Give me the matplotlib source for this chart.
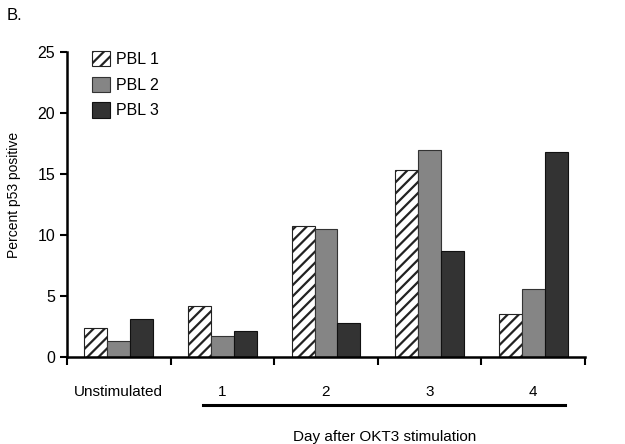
import matplotlib
matplotlib.use('Agg')
import matplotlib.pyplot as plt
import numpy as np

# Datos
categorias = ['Unstimulated', '1', '2', '3', '4']
pbl1 = [2.4, 4.2, 10.7, 15.3, 3.5]
pbl2 = [1.3, 1.7, 10.5, 17.0, 5.6]
pbl3 = [3.1, 2.1, 2.8, 8.7, 16.8]
series = ['PBL 1', 'PBL 2', 'PBL 3']

plt.rcParams['font.family'] = ['Liberation Sans', 'DejaVu Sans']
plt.rcParams['hatch.linewidth'] = 1.6

W, H = 625, 444
fig = plt.figure(figsize=(W / 100, H / 100), dpi=100)
ax = fig.add_axes([67 / W, 1 - 357 / H, 518 / W, 305 / H])

x = np.arange(len(categorias))
w = 0.222
ax.bar(x - w, pbl1, w, facecolor='white', edgecolor='#222222', hatch='///',
       linewidth=0.8, label=series[0])
ax.bar(x, pbl2, w, facecolor='#858585', edgecolor='#333333',
       linewidth=0.8, label=series[1])
ax.bar(x + w, pbl3, w, facecolor='#333333', edgecolor='#111111',
       linewidth=0.8, label=series[2])

ax.set_xlim(-0.5, len(categorias) - 0.5)
ax.set_ylim(0, 25)
ax.set_yticks([0, 5, 10, 15, 20, 25])
ax.set_ylabel('Percent p53 positive', fontsize=10)
ax.yaxis.set_label_coords(-0.088, 0.53)

# marcas en los limites de las categorias, etiquetas centradas
ax.set_xticks(np.arange(-0.5, len(categorias), 1.0))
ax.set_xticklabels([])
ax.set_xticks(x, minor=True)
ax.set_xticklabels(categorias, minor=True, fontsize=11)
ax.tick_params(axis='x', which='minor', length=0, pad=20)
ax.tick_params(axis='x', which='major', direction='out', length=6, width=1.5)
ax.tick_params(axis='y', direction='out', length=5, width=1.5, labelsize=11.5)

ax.spines['top'].set_visible(False)
ax.spines['right'].set_visible(False)
ax.spines['left'].set_linewidth(1.8)
ax.spines['bottom'].set_linewidth(1.8)

ax.legend(loc='upper left', bbox_to_anchor=(92 / W, 1 - 51 / H),
          bbox_transform=fig.transFigure, frameon=False, borderpad=0,
          borderaxespad=0, fontsize=11.5, handlelength=1.1, handleheight=1.1,
          labelspacing=0.6, handletextpad=0.4)

# linea bajo los dias y su etiqueta
fig.add_artist(plt.Line2D([203 / W, 565 / W], [1 - 405 / H, 1 - 405 / H],
                          color='black', linewidth=2.2))
fig.text(385 / W, 1 - 437 / H, 'Day after OKT3 stimulation',
         ha='center', va='center', fontsize=11)
fig.text(7 / W, 1 - 15 / H, 'B.', ha='left', va='center', fontsize=12)

plt.savefig('out.png', dpi=100)
